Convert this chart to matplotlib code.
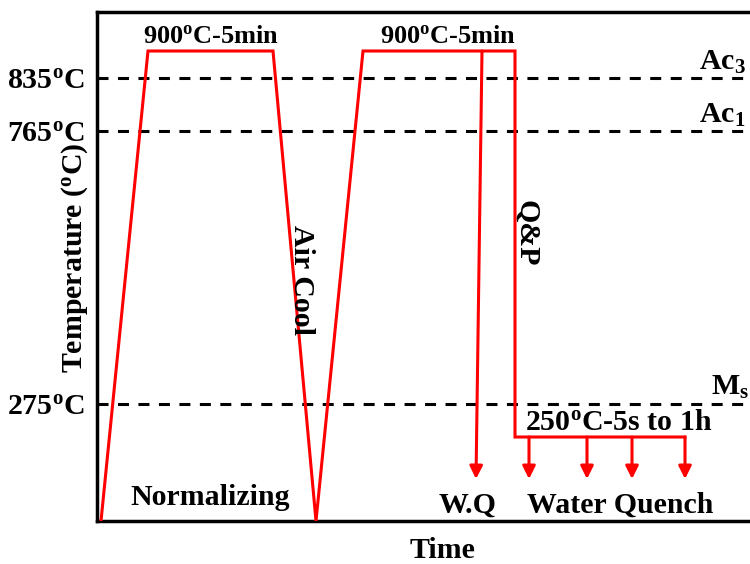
import numpy as np
import matplotlib
matplotlib.use("Agg")
import matplotlib.pyplot as plt

plt.rcParams['font.family'] = ['Liberation Serif', 'DejaVu Serif']
plt.rcParams['font.weight'] = 'bold'
plt.rcParams['mathtext.fontset'] = 'custom'
plt.rcParams['mathtext.rm'] = 'Liberation Serif:bold'
plt.rcParams['mathtext.bf'] = 'Liberation Serif:bold'
plt.rcParams['mathtext.it'] = 'Liberation Serif:bold'

# ---- data (schematic time units, temperature in degC) ----
path_time = [4, 51, 176, 219, 266, 418, 418, 588]
path_temp = [0, 900, 900, 0, 900, 900, 250, 250]
wq_time = [385, 379]
wq_temp = [900, 125]
qp_arrow_times = [432, 490, 535, 588]
qp_hold_temp = 250
arrow_end_temp = 125
crit_temps = [835, 765, 275]
crit_names = ["Ac$_{3}$", "Ac$_{1}$", "M$_{s}$"]
tick_labels = ["835$^{o}$C", "765$^{o}$C", "275$^{o}$C"]

# schematic (non-linear) temperature axis
anch_t = np.array([0, 250, 275, 765, 835, 900, 1000], float)
anch_d = np.array([0, 84, 117, 390, 443, 470, 509], float)
def fwd(t):
    return np.interp(t, anch_t, anch_d)
def inv(d):
    return np.interp(d, anch_d, anch_t)

fig = plt.figure(figsize=(7.5, 5.64), dpi=100)
ax = fig.add_axes([97/750, 1 - 521/564, 668/750, (521 - 12)/564])
ax.set_yscale('function', functions=(fwd, inv))
ax.set_xlim(0, 668)
ax.set_ylim(0, 1000)

red = '#ff0000'
lw = 2.2
ax.plot(path_time, path_temp, color=red, lw=lw, solid_joinstyle='miter', zorder=3)

aprops = dict(arrowstyle='-|>', color=red, lw=lw, mutation_scale=19,
              shrinkA=0, shrinkB=0)
ax.annotate('', xy=(wq_time[1], wq_temp[1]), xytext=(wq_time[0], wq_temp[0]),
            arrowprops=aprops, zorder=3)
for t in qp_arrow_times:
    ax.annotate('', xy=(t, arrow_end_temp), xytext=(t, qp_hold_temp),
                arrowprops=aprops, zorder=3)

for T in crit_temps:
    ax.axhline(T, color='black', lw=2.2, linestyle=(0, (3.6, 3.1)), zorder=2)

ax.set_yticks(crit_temps)
ax.set_yticklabels(tick_labels, fontsize=21.5, fontweight='bold')
ax.tick_params(axis='y', length=0, pad=9)
ax.set_xticks([])
for s in ['left', 'bottom', 'top']:
    ax.spines[s].set_linewidth(2.5)
ax.spines['right'].set_visible(False)

fs = 21.5
ax.text(114, 936, "900$^{o}$C-5min", fontsize=19, ha='center', va='center')
ax.text(351, 936, "900$^{o}$C-5min", fontsize=19, ha='center', va='center')
ax.text(625, 873, crit_names[0], fontsize=fs, ha='center', va='center', clip_on=False)
ax.text(625, 786, crit_names[1], fontsize=fs, ha='center', va='center', clip_on=False)
ax.text(614, 304, crit_names[2], fontsize=fs, ha='left', va='center', clip_on=False)
ax.text(522, 261, "250$^{o}$C-5s to 1h", fontsize=fs, ha='center', va='center')
ax.text(371, 48, "W.Q", fontsize=fs, ha='center', va='center')
ax.text(523, 48, "Water Quench", fontsize=fs, ha='center', va='center')
ax.text(113, 71, "Normalizing", fontsize=fs, ha='center', va='center')
ax.text(204, 497, "Air Cool", fontsize=fs, ha='center', va='center', rotation=-90)
ax.text(429, 582, "Q&P", fontsize=fs, ha='center', va='center', rotation=-90)

fig.text(442/750, 1 - 551/564, "Time", fontsize=fs, ha='center', va='center')
fig.text(75/750, 1 - 258/564, "Temperature ($^{o}$C)", fontsize=fs, ha='center',
         va='center', rotation=90)

fig.savefig("out.png", dpi=100)
